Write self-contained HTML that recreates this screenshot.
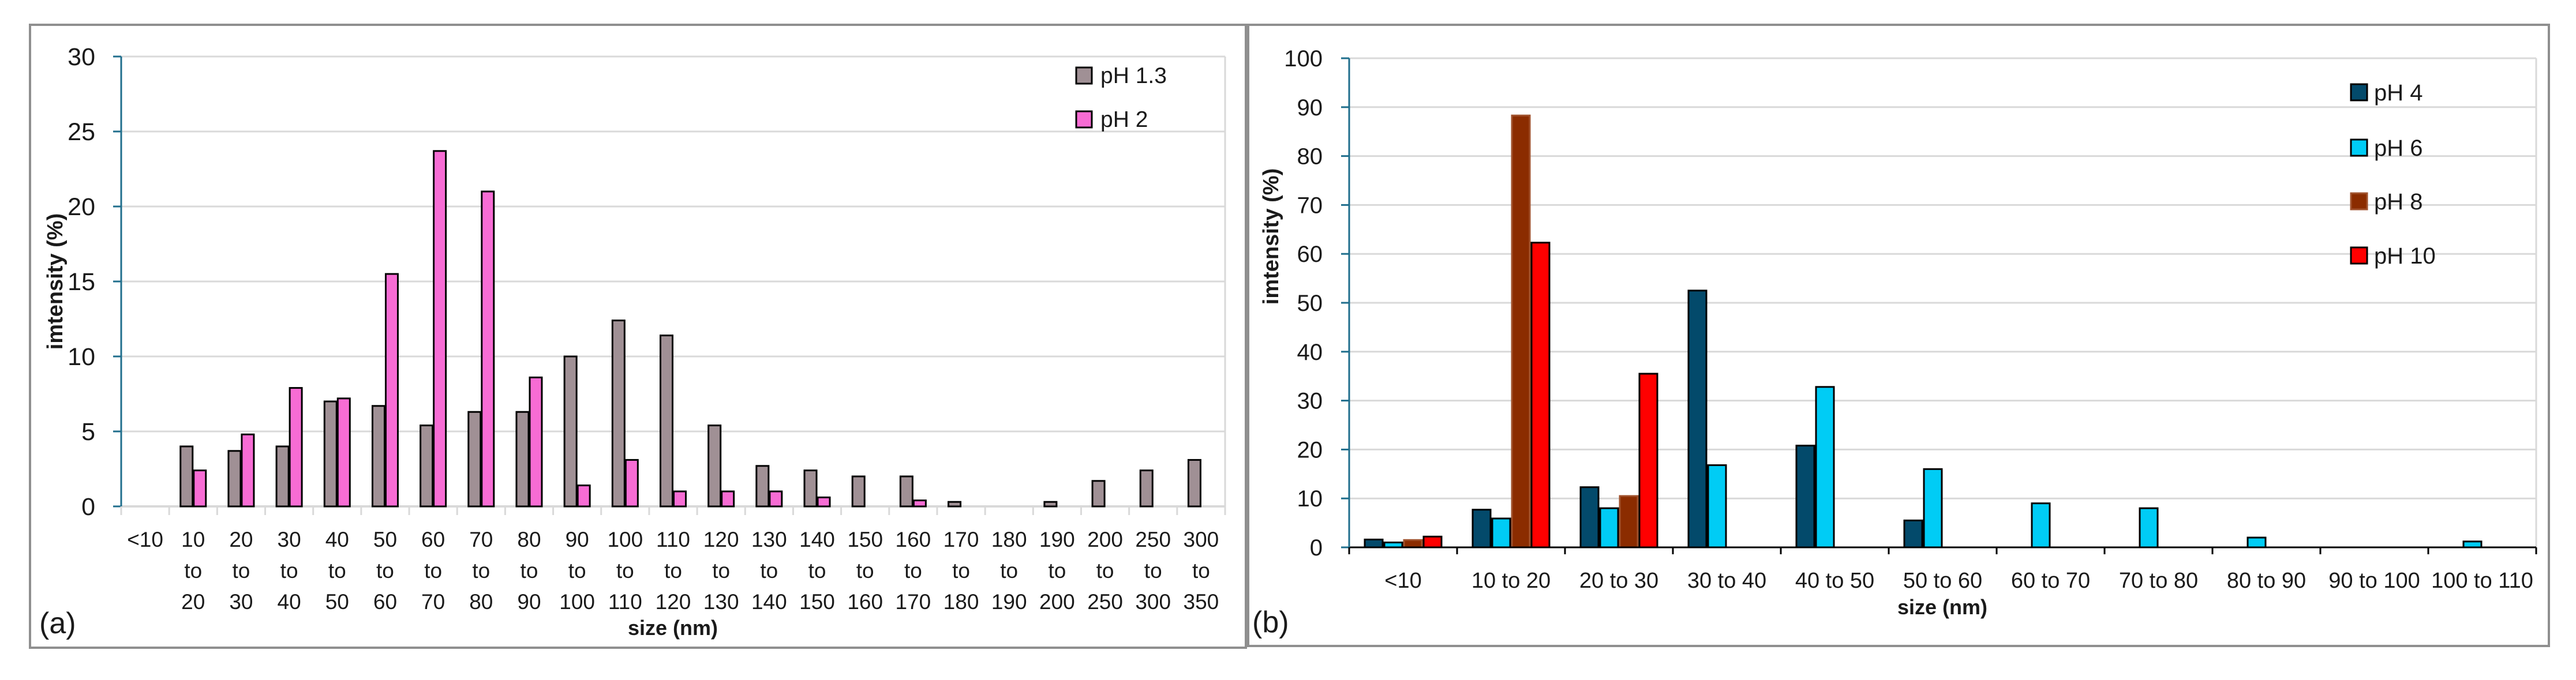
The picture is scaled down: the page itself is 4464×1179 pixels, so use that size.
<!DOCTYPE html>
<html><head><meta charset="utf-8"><style>
html,body{margin:0;padding:0;background:#fff;}
svg{display:block;font-family:"Liberation Sans",Arial,sans-serif;}
</style></head><body>
<svg id="fig" width="4464" height="1179" viewBox="0 0 4464 1179" xmlns="http://www.w3.org/2000/svg">
<rect x="0" y="0" width="4464" height="1179" fill="#fff"/>
<rect x="52" y="43" width="2107" height="1080" fill="none" stroke="#8f8f8f" stroke-width="4"/>
<rect x="2163" y="43" width="2254" height="1077" fill="none" stroke="#8f8f8f" stroke-width="4"/>
<g id="ga"></g>
<g id="gb"></g>
</svg>
<script>
const catsA = ["<10","10|to|20","20|to|30","30|to|40","40|to|50","50|to|60","60|to|70","70|to|80","80|to|90","90|to|100","100|to|110","110|to|120","120|to|130","130|to|140","140|to|150","150|to|160","160|to|170","170|to|180","180|to|190","190|to|200","200|to|250","250|to|300","300|to|350"];
const ph13 = [0,4.0,3.7,4.0,7.0,6.7,5.4,6.3,6.3,10.0,12.4,11.4,5.4,2.7,2.4,2.0,2.0,0.3,0,0.3,1.7,2.4,3.1];
const ph2 = [0,2.4,4.8,7.9,7.2,15.5,23.7,21.0,8.6,1.4,3.1,1.0,1.0,1.0,0.6,0,0.4,0,0,0,0,0,0];
const ticksA = [0,5,10,15,20,25,30];
const catsB = ["<10","10 to 20","20 to 30","30 to 40","40 to 50","50 to 60","60 to 70","70 to 80","80 to 90","90 to 100","100 to 110"];
const ph4 = [1.6,7.7,12.3,52.5,20.8,5.5,0,0,0,0,0];
const ph6 = [1.0,5.9,8.0,16.8,32.8,16.0,9.0,8.0,2.0,0,1.2];
const ph8 = [1.5,88.3,10.5,0,0,0,0,0,0,0,0];
const ph10 = [2.2,62.3,35.5,0,0,0,0,0,0,0,0];
const ticksB = [0,10,20,30,40,50,60,70,80,90,100];

const NS="http://www.w3.org/2000/svg";
function mk(parent,tag,attrs,text){const e=document.createElementNS(NS,tag);for(const k in attrs)e.setAttribute(k,attrs[k]);if(text!==undefined)e.textContent=text;parent.appendChild(e);return e;}

// ---------- Chart A ----------
(function(){
const g=document.getElementById('ga');
const x0=210,x1=2123,yTop=98,yBot=878,maxV=30;
const slot=(x1-x0)/catsA.length;
const y=v=>yBot-(v/maxV)*(yBot-yTop);
const xc=i=>x0+slot*(i+0.5);
ticksA.forEach(t=>{
 if(t>0){const gl=mk(g,'line',{x1:x0,x2:x1,y1:y(t),y2:y(t),stroke:'#d9d9d9','stroke-width':3});
 
 }
 const tm=mk(g,'line',{x1:x0-14,x2:x0,y1:y(t),y2:y(t),stroke:'#1f6e8c','stroke-width':3});
 
 
 const tl=mk(g,'text',{x:165,y:y(t)+15,'text-anchor':'end','font-size':43,fill:'#1a1a1a'},String(t));
 
 
});
const rf=mk(g,'line',{x1:x1,x2:x1,y1:yTop,y2:yBot+14,stroke:'#d9d9d9','stroke-width':3});


const xa=mk(g,'line',{x1:x0,x2:x1,y1:yBot,y2:yBot,stroke:'#d9d9d9','stroke-width':4});


for(let i=0;i<=catsA.length;i++){
 const t=mk(g,'line',{x1:x0+slot*i,x2:x0+slot*i,y1:yBot,y2:yBot+15,stroke:'#d9d9d9','stroke-width':3});
 
 
}
const ya=mk(g,'line',{x1:x0,x2:x0,y1:yTop,y2:yBot,stroke:'#1f6e8c','stroke-width':3});


const bw=21,gap=2;
catsA.forEach((c,i)=>{
 const cx=xc(i);
 if(ph13[i]>0){const b=mk(g,'rect',{x:cx-gap/2-bw,y:y(ph13[i]),width:bw,height:yBot-y(ph13[i]),fill:'#a09095',stroke:'#000','stroke-width':3});
 
 }
 if(ph2[i]>0){const b=mk(g,'rect',{x:cx+gap/2,y:y(ph2[i]),width:bw,height:yBot-y(ph2[i]),fill:'#f76cd4',stroke:'#000','stroke-width':3});
 
 }
 const parts=c.split('|');
 const lbl=mk(g,'text',{x:cx,y:948,'text-anchor':'middle','font-size':37,fill:'#1a1a1a'});
 
 
 parts.forEach((p,k)=>{mk(lbl,'tspan',{x:cx,y:948+k*54},p);});
});
const yt=mk(g,'text',{x:0,y:0,transform:'translate(108,488) rotate(-90)','text-anchor':'middle','font-size':38,'font-weight':'bold',fill:'#1a1a1a'},'imtensity (%)');


const xt=mk(g,'text',{x:1166,y:1101,'text-anchor':'middle','font-size':36,'font-weight':'bold',fill:'#1a1a1a'},'size (nm)');


const pl=mk(g,'text',{x:68,y:1098,'font-size':52,fill:'#1a1a1a'},'(a)');


[['pH 1.3','#a09095',117],['pH 2','#f76cd4',193]].forEach(([n,c,yy])=>{
 const s=mk(g,'rect',{x:1865,y:yy,width:27,height:28,fill:c,stroke:'#000','stroke-width':3});
 
 
 const t=mk(g,'text',{x:1907,y:yy+27,'font-size':39,fill:'#1a1a1a'},n);
 
 
});
})();

// ---------- Chart B ----------
(function(){
const g=document.getElementById('gb');
const x0=2338,x1=4395,yTop=101,yBot=949,maxV=100;
const slot=(x1-x0)/catsB.length;
const y=v=>yBot-(v/maxV)*(yBot-yTop);
ticksB.forEach(t=>{
 if(t>0){const gl=mk(g,'line',{x1:x0,x2:x1,y1:y(t),y2:y(t),stroke:'#d9d9d9','stroke-width':3});
 
 }
 const tm=mk(g,'line',{x1:x0-14,x2:x0,y1:y(t),y2:y(t),stroke:'#1f6e8c','stroke-width':3});
 
 
 const tl=mk(g,'text',{x:2292,y:y(t)+14,'text-anchor':'end','font-size':40,fill:'#1a1a1a'},String(t));
 
 
});
const rf=mk(g,'line',{x1:x1,x2:x1,y1:yTop,y2:yBot,stroke:'#d9d9d9','stroke-width':3});


const series=[[ph4,'#034a6b','#000','bar-ph4'],[ph6,'#00ccf5','#000','bar-ph6'],[ph8,'#8b2c00','#a0522d','bar-ph8'],[ph10,'#ff0000','#000','bar-ph10']];
const bw=31,gap=3,grp=4*bw+3*gap;
catsB.forEach((c,i)=>{
 const start=x0+slot*i+(slot-grp)/2;
 series.forEach(([arr,col,st,nm],k)=>{
  if(arr[i]>0){const b=mk(g,'rect',{x:start+k*(bw+gap),y:y(arr[i]),width:bw,height:yBot-y(arr[i]),fill:col,stroke:st,'stroke-width':3});
  
  }
 });
 const lbl=mk(g,'text',{x:x0+slot*(i+0.5),y:1019,'text-anchor':'middle','font-size':38,fill:'#1a1a1a'},c);
 
 
});
const xa=mk(g,'line',{x1:x0,x2:x1,y1:yBot,y2:yBot,stroke:'#000','stroke-width':3});


for(let i=0;i<=catsB.length;i++){
 const t=mk(g,'line',{x1:x0+slot*i,x2:x0+slot*i,y1:yBot,y2:yBot+12,stroke:'#000','stroke-width':3});
 
 
}
const ya=mk(g,'line',{x1:x0,x2:x0,y1:yTop,y2:yBot,stroke:'#1f6e8c','stroke-width':3});


const yt=mk(g,'text',{x:0,y:0,transform:'translate(2215,410) rotate(-90)','text-anchor':'middle','font-size':38,'font-weight':'bold',fill:'#1a1a1a'},'imtensity (%)');


const xt=mk(g,'text',{x:3366,y:1065,'text-anchor':'middle','font-size':36,'font-weight':'bold',fill:'#1a1a1a'},'size (nm)');


const pl=mk(g,'text',{x:2170,y:1096,'font-size':52,fill:'#1a1a1a'},'(b)');


[['pH 4','#034a6b','#000',146],['pH 6','#00ccf5','#000',242],['pH 8','#8b2c00','#a0522d',335],['pH 10','#ff0000','#000',429]].forEach(([n,c,st,yy])=>{
 const s=mk(g,'rect',{x:4074,y:yy,width:28,height:28,fill:c,stroke:st,'stroke-width':3});
 
 
 const t=mk(g,'text',{x:4114,y:yy+28,'font-size':40,fill:'#1a1a1a'},n);
 
 
});
})();
</script>
</body></html>
